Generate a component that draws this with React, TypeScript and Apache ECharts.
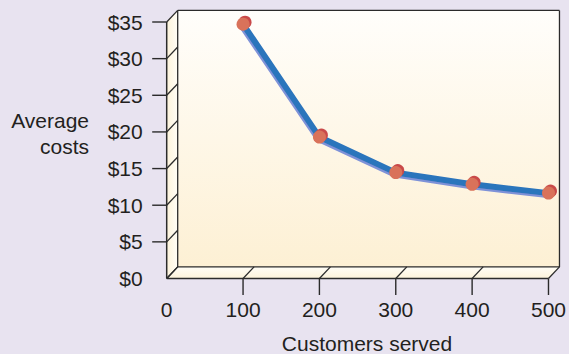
import React, { useEffect, useRef } from "react";
import * as echarts from "echarts";

const customers = [100, 200, 300, 400, 500];
const avgCosts = [34.7, 19.3, 14.45, 12.85, 11.65];
const xTicks = [0, 100, 200, 300, 400, 500];
const yTicks = [0, 5, 10, 15, 20, 25, 30, 35];

const FONT = '"Liberation Sans", Arial, Helvetica, sans-serif';
const TEXT = "#231f20";
const EDGE = "#2b2b2b";
const DX = 11;
const DY = -11.6;
const FS = 21;

export default function App() {
  const ref = useRef<HTMLDivElement>(null);
  useEffect(() => {
    if (!ref.current) return;
    const chart = echarts.init(ref.current, null, { renderer: "svg" });
    const xMin = xTicks[0];
    const xMax = xTicks[xTicks.length - 1];
    const yMin = yTicks[0];
    const yMax = yTicks[yTicks.length - 1];

    const renderBox = (params: any, api: any) => {
      const o = api.coord([xMin, yMin]);
      const tr = api.coord([xMax, yMax]);
      const x0 = o[0], y0 = o[1], x1 = tr[0], y1 = tr[1];
      const line = (ax: number, ay: number, bx: number, by: number, w = 1.3) => ({
        type: "line",
        shape: { x1: ax, y1: ay, x2: bx, y2: by },
        style: { stroke: EDGE, lineWidth: w },
        silent: true,
      });
      const children: any[] = [];
      children.push({
        type: "rect",
        shape: { x: x0 + DX, y: y1 + DY, width: x1 - x0, height: y0 - y1 },
        style: {
          fill: new echarts.graphic.LinearGradient(0, 0, 0, 1, [
            { offset: 0, color: "#fffefb" },
            { offset: 1, color: "#fdf0d4" },
          ]),
        },
      });
      children.push({
        type: "polygon",
        shape: { points: [[x0, y1], [x0 + DX, y1 + DY], [x0 + DX, y0 + DY], [x0, y0]] },
        style: {
          fill: new echarts.graphic.LinearGradient(0, 0, 1, 0, [
            { offset: 0, color: "#fdf3da" },
            { offset: 1, color: "#fffdf6" },
          ]),
        },
      });
      children.push({
        type: "polygon",
        shape: { points: [[x0, y0], [x1, y0], [x1 + DX, y0 + DY], [x0 + DX, y0 + DY]] },
        style: {
          fill: new echarts.graphic.LinearGradient(0, 1, 0, 0, [
            { offset: 0, color: "#fdf3da" },
            { offset: 1, color: "#fffdf6" },
          ]),
        },
      });
      children.push(line(x0 + DX, y1 + DY, x1 + DX, y1 + DY));
      children.push(line(x1 + DX, y1 + DY, x1 + DX, y0 + DY));
      children.push(line(x0 + DX, y1 + DY, x0 + DX, y0 + DY));
      children.push(line(x0 + DX, y0 + DY, x1 + DX, y0 + DY));
      children.push(line(x0, y1, x0, y0, 1.5));
      children.push(line(x0, y0, x1, y0, 1.5));
      yTicks.forEach((v) => {
        const p = api.coord([xMin, v]);
        children.push(line(p[0], p[1], p[0] + DX, p[1] + DY));
        if (v !== yMin) children.push(line(p[0] - 14.5, p[1], p[0], p[1], 1.4));
      });
      xTicks.forEach((v) => {
        const p = api.coord([v, yMin]);
        children.push(line(p[0], p[1], p[0] + DX, p[1] + DY));
        if (v !== xMin) children.push(line(p[0], p[1], p[0], p[1] + 16.5, 1.4));
      });
      return { type: "group", children };
    };

    chart.setOption({
      animation: false,
      backgroundColor: "#e8e3f0",
      grid: { left: 166.7, right: 16.3, top: 22, bottom: 75.5, containLabel: false },
      xAxis: {
        type: "value",
        min: xMin,
        max: xMax,
        interval: 100,
        axisLine: { show: false },
        axisTick: { show: false },
        splitLine: { show: false },
        axisLabel: { color: TEXT, fontSize: FS, fontFamily: FONT, margin: 20 },
      },
      yAxis: {
        type: "value",
        min: yMin,
        max: yMax,
        interval: 5,
        axisLine: { show: false },
        axisTick: { show: false },
        splitLine: { show: false },
        axisLabel: {
          color: TEXT,
          fontSize: FS,
          fontFamily: FONT,
          margin: 24,
          formatter: (v: number) => "$" + v,
        },
      },
      graphic: [
        {
          type: "text",
          x: 89,
          y: 133,
          style: {
            text: "Average\ncosts",
            fill: TEXT,
            font: `${FS}px ${FONT}`,
            align: "right",
            verticalAlign: "middle",
            lineHeight: 26,
          },
        },
        {
          type: "text",
          x: 367,
          y: 343,
          style: {
            text: "Customers served",
            fill: TEXT,
            font: `${FS}px ${FONT}`,
            align: "center",
            verticalAlign: "middle",
          },
        },
      ],
      series: [
        {
          type: "custom",
          data: [[0, 0]],
          renderItem: renderBox,
          clip: false,
          silent: true,
          z: 1,
        },
        {
          type: "line",
          data: customers.map((c, i) => [c, avgCosts[i]]),
          z: 5,
          symbol: "circle",
          symbolSize: 13,
          lineStyle: {
            color: "#2c74bc",
            width: 6,
            shadowColor: "#7e92d8",
            shadowOffsetX: -1,
            shadowOffsetY: 2,
            shadowBlur: 0,
          },
          itemStyle: {
            color: "#d9725a",
            opacity: 1,
            shadowColor: "#c9494a",
            shadowOffsetX: 2,
            shadowOffsetY: -2,
            shadowBlur: 0,
          },
        },
      ],
    });
    return () => chart.dispose();
  }, []);
  return (
    <div
      ref={ref}
      style={{ position: "absolute", left: 0, top: 0, width: 569, height: 354 }}
    />
  );
}
